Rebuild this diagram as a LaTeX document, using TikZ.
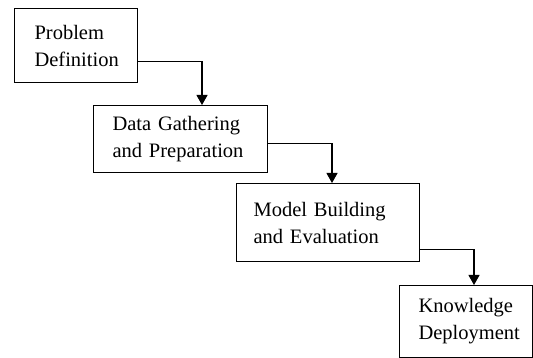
\documentclass[tikz,border=0pt]{standalone}
\usepackage{fontspec}
\setmainfont{Liberation Serif}
\usetikzlibrary{arrows.meta,calc}
\begin{document}
\begin{tikzpicture}[x=1pt,y=-1pt,
  stagebox/.style={draw,line width=1.1pt,anchor=north west,align=left,
    font=\fontsize{20.5}{27}\selectfont,inner ysep=0pt},
  flow/.style={line width=1.1pt,-{Triangle[width=11pt,length=10pt]}}]
\useasboundingbox (0,0) rectangle (533,358);
\node[stagebox,minimum width=123pt,minimum height=74pt,inner xsep=20pt,text width=83pt] (b1) at (14,8) {Problem\\Definition};
\node[stagebox,minimum width=174pt,minimum height=67pt,inner xsep=19pt,text width=136pt] (b2) at (93,105) {Data Gathering\\and Preparation};
\node[stagebox,minimum width=183pt,minimum height=78pt,inner xsep=17pt,text width=149pt] (b3) at (236,183) {Model Building\\and Evaluation};
\node[stagebox,minimum width=133pt,minimum height=72pt,inner xsep=19pt,text width=95pt] (b4) at (399,285) {Knowledge\\Deployment};
\coordinate (k1) at (202,0);
\coordinate (k2) at (332,0);
\coordinate (k3) at (474,0);
\draw[flow] ($(b1.south east)+(0,-22)$) -| (k1 |- b2.north);
\draw[flow] ($(b2.south east)+(0,-30)$) -| (k2 |- b3.north);
\draw[flow] ($(b3.south east)+(0,-13)$) -| (k3 |- b4.north);
\end{tikzpicture}
\end{document}
